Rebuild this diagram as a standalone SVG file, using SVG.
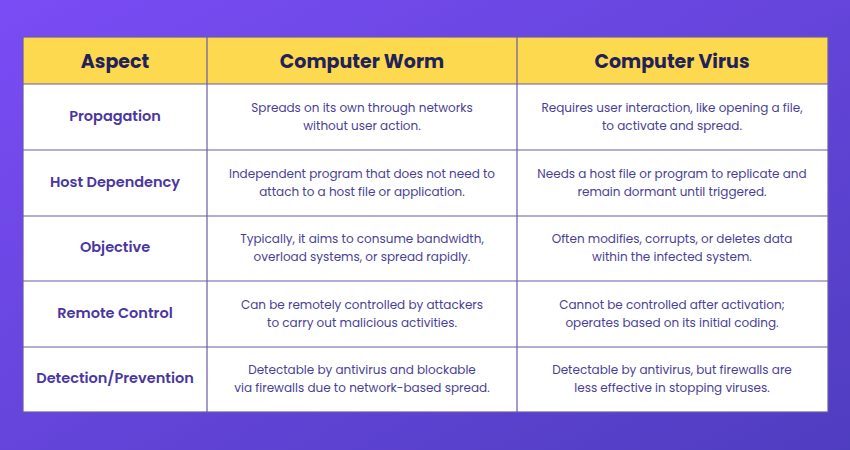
<svg xmlns="http://www.w3.org/2000/svg" width="850" height="450" viewBox="0 0 850 450">
<defs>
<linearGradient id="bg" x1="0" y1="0" x2="1" y2="1">
<stop offset="0" stop-color="#7a4cf5"/><stop offset="1" stop-color="#4f3dc0"/>
</linearGradient>
<style>
.h{font-family:Poppins,"Open Sans","Liberation Sans",sans-serif;font-weight:700;font-size:19px;fill:#23215a;text-anchor:middle}
.a{font-family:Poppins,"Open Sans","Liberation Sans",sans-serif;font-weight:600;font-size:14.5px;fill:#4a36a0;text-anchor:middle}
.t{font-family:Poppins,"Open Sans","Liberation Sans",sans-serif;font-size:12px;fill:#4a3f95;text-anchor:middle}
.ln{stroke:#6b5aa8;stroke-width:1.2}
</style>
</defs>
<rect width="850" height="450" fill="url(#bg)"/>
<rect x="23" y="37" width="805" height="47" fill="#fdd94f"/>
<rect x="23" y="84" width="805" height="328" fill="#ffffff"/>
<g id="grid" fill="none">
<rect x="23" y="37" width="805" height="375" class="ln"/>
<line x1="207" y1="37" x2="207" y2="412" class="ln"/>
<line x1="517" y1="37" x2="517" y2="412" class="ln"/>
<line x1="23" y1="84" x2="828" y2="84" class="ln"/>
<line x1="23" y1="150" x2="828" y2="150" class="ln"/>
<line x1="23" y1="216" x2="828" y2="216" class="ln"/>
<line x1="23" y1="281" x2="828" y2="281" class="ln"/>
<line x1="23" y1="347" x2="828" y2="347" class="ln"/>
</g>
<g id="header">
<text class="h" x="115" y="68">Aspect</text>
<text class="h" x="362" y="68">Computer Worm</text>
<text class="h" x="672" y="68">Computer Virus</text>
</g>
<g id="row1">
<text class="a" x="115" y="121">Propagation</text>
<text class="t" x="362" y="112">Spreads on its own through networks</text>
<text class="t" x="362" y="130">without user action.</text>
<text class="t" x="672" y="112">Requires user interaction, like opening a file,</text>
<text class="t" x="672" y="130">to activate and spread.</text>
</g>
<g id="row2">
<text class="a" x="115" y="187">Host Dependency</text>
<text class="t" x="362" y="178">Independent program that does not need to</text>
<text class="t" x="362" y="196">attach to a host file or application.</text>
<text class="t" x="672" y="178">Needs a host file or program to replicate and</text>
<text class="t" x="672" y="196">remain dormant until triggered.</text>
</g>
<g id="row3">
<text class="a" x="115" y="252">Objective</text>
<text class="t" x="362" y="243">Typically, it aims to consume bandwidth,</text>
<text class="t" x="362" y="261">overload systems, or spread rapidly.</text>
<text class="t" x="672" y="243">Often modifies, corrupts, or deletes data</text>
<text class="t" x="672" y="261">within the infected system.</text>
</g>
<g id="row4">
<text class="a" x="115" y="318">Remote Control</text>
<text class="t" x="362" y="309">Can be remotely controlled by attackers</text>
<text class="t" x="362" y="327">to carry out malicious activities.</text>
<text class="t" x="672" y="309">Cannot be controlled after activation;</text>
<text class="t" x="672" y="327">operates based on its initial coding.</text>
</g>
<g id="row5">
<text class="a" x="115" y="383">Detection/Prevention</text>
<text class="t" x="362" y="374">Detectable by antivirus and blockable</text>
<text class="t" x="362" y="392">via firewalls due to network-based spread.</text>
<text class="t" x="672" y="374">Detectable by antivirus, but firewalls are</text>
<text class="t" x="672" y="392">less effective in stopping viruses.</text>
</g>
</svg>
